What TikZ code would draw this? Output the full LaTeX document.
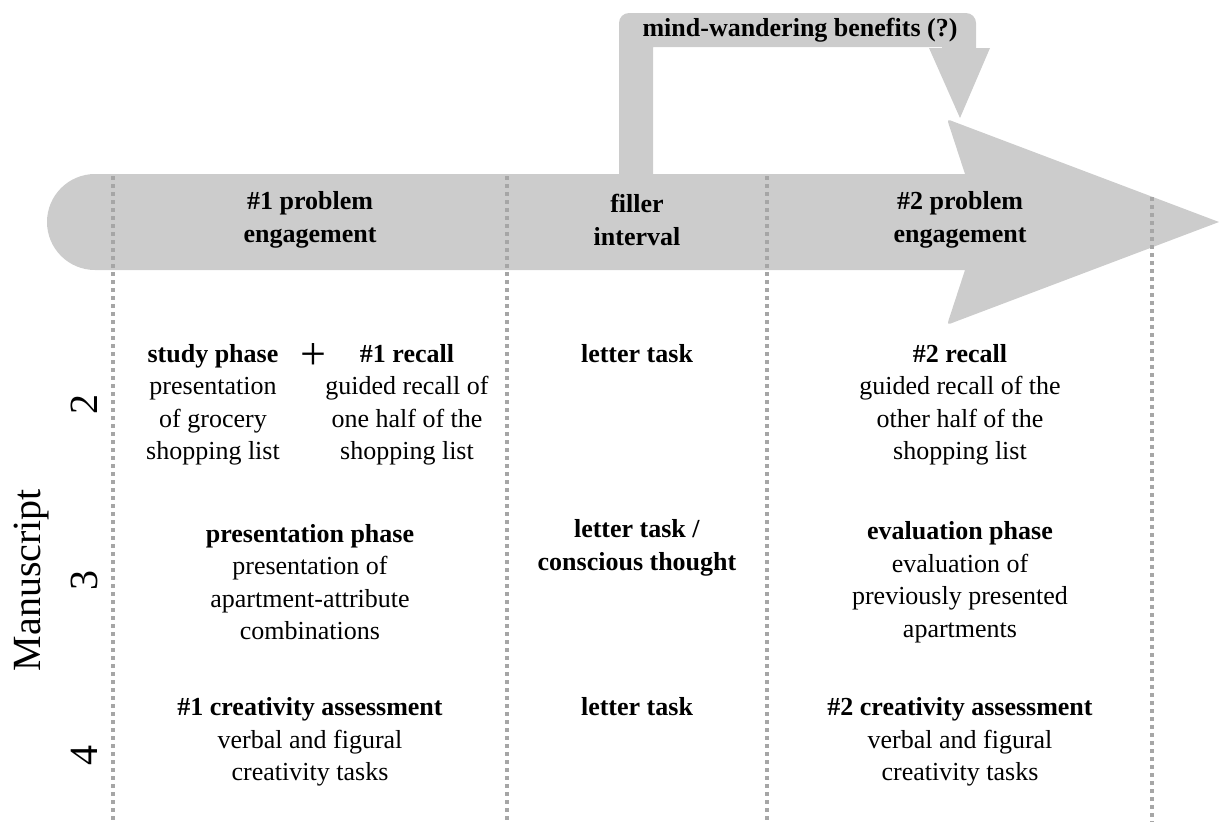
\documentclass[tikz,border=0pt]{standalone}
\usepackage{fontspec}
\setmainfont{Liberation Serif}
\definecolor{bandgray}{HTML}{CCCCCC}
\definecolor{dotgray}{HTML}{A6A6A6}
\tikzset{
  txt/.style={align=center, inner sep=0pt, font=\fontsize{26}{32.5}\selectfont},
  side/.style={rotate=90, anchor=base, inner sep=0pt, font=\fontsize{40}{48}\selectfont},
  sep/.style={draw=dotgray, line width=3.5pt, dash pattern=on 4pt off 4pt},
}
\begin{document}
\begin{tikzpicture}[x=1pt, y=-1pt]
\useasboundingbox (0,0) rectangle (1219,828);
% main arrow
\fill[bandgray] (965,174) -- (95,174) arc[start angle=270, end angle=90, radius=48]
  -- (965,270) -- (949.5,317.4) .. controls (947,325) .. (954.5,322)
  -- (1219,222) -- (954.5,122) .. controls (947,119) .. (949.5,126.6) -- cycle;
% mind-wandering arrow
\fill[bandgray] (619,180) -- (619,23) arc[start angle=180, end angle=270, radius=10]
  -- (966,13) arc[start angle=270, end angle=360, radius=10]
  -- (976,48) -- (990,48) -- (960,118) -- (929,48) -- (942,48) -- (942,47)
  -- (653,47) -- (653,180) -- cycle;
% separators
\draw[sep] (113,176) -- (113,822);
\draw[sep] (507,176) -- (507,822);
\draw[sep] (767,176) -- (767,822);
\draw[sep] (1152,197) -- (1152,822);
% labels
\node[txt] (mw) at (800,30) {\textbf{mind-wandering benefits (?)}};
\node[txt] (h1) at (310,220) {\textbf{\#1 problem}\\\textbf{engagement}};
\node[txt] (h2) at (637,220) {\textbf{filler}\\\textbf{interval}};
\node[txt] (h3) at (960,220) {\textbf{\#2 problem}\\\textbf{engagement}};
% side labels
\node[side] (ms) at (40,580) {Manuscript};
\node[side] (m2) at (97,404) {2};
\node[side] (m3) at (97,580) {3};
\node[side] (m4) at (97,755) {4};
% row 2
\node[txt] (s1) at (213,405) {\textbf{study phase}\\presentation\\of grocery\\shopping list};
\node[inner sep=0pt, font=\fontsize{46}{46}\selectfont] (plus) at (313,356) {+};
\node[txt] (r1) at (407,405) {\textbf{\#1 recall}\\guided recall of\\one half of the\\shopping list};
\node[txt] (l1) at (637,354) {\textbf{letter task}};
\node[txt] (r2) at (960,405) {\textbf{\#2 recall}\\guided recall of the\\other half of the\\shopping list};
% row 3
\node[txt] (p1) at (310,582) {\textbf{presentation phase}\\presentation of\\apartment-attribute\\combinations};
\node[txt] (l2) at (637,548) {\textbf{letter task /}\\\textbf{conscious thought}};
\node[txt] (e1) at (960,582) {\textbf{evaluation phase}\\evaluation of\\previously presented\\apartments};
% row 4
\node[txt] (c1) at (310,742) {\textbf{\#1 creativity assessment}\\verbal and figural\\creativity tasks};
\node[txt] (l3) at (637,707) {\textbf{letter task}};
\node[txt] (c2) at (960,742) {\textbf{\#2 creativity assessment}\\verbal and figural\\creativity tasks};
\end{tikzpicture}
\end{document}
